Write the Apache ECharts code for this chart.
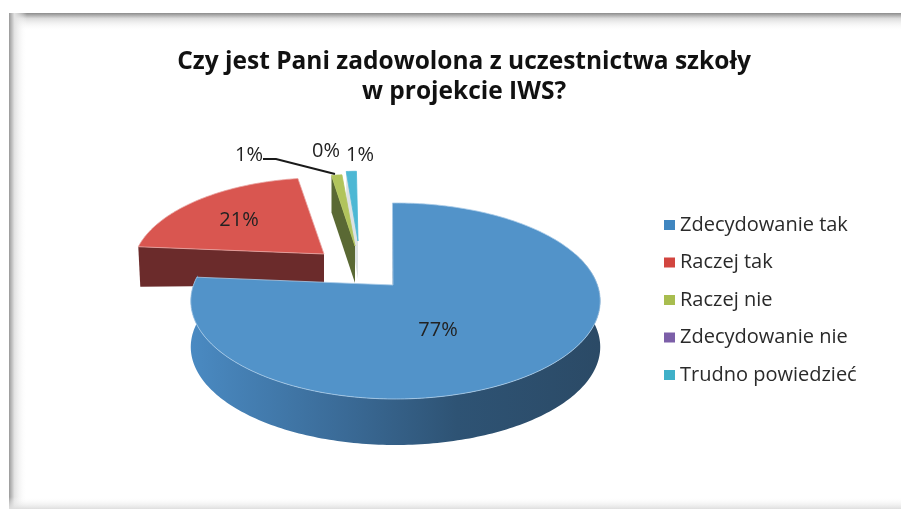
<!DOCTYPE html>
<html>
<head>
<meta charset="utf-8">
<script src="https://cdn.jsdelivr.net/npm/echarts@6/dist/echarts.min.js"></script>
<style>
  html, body { margin: 0; padding: 0; background: #fff; }
  #chart { width: 901px; height: 509px; }
</style>
</head>
<body>
<div id="chart"></div>
<script>
const titleText = 'Czy jest Pani zadowolona z uczestnictwa szkoły\nw projekcie IWS?';
const categories = ['Zdecydowanie tak', 'Raczej tak', 'Raczej nie', 'Zdecydowanie nie', 'Trudno powiedzieć'];
const percentages = [76.6, 21.2, 1.1, 0, 1.1];
const legendColors = ['#3f86c0', '#d2453f', '#a8bd4f', '#7c5fa8', '#3fb0c8'];

const FONT = 'Open Sans';
const START_ANGLE = -1;
const PERSPECTIVE = 0.163;
const RX = 202;
const RY = 95.4;

// how each slice is placed and painted, same order as categories
const sliceLook = [
  { arcX: 395.5, apexX: 393, apexY: 285, scale: 1, depth: 46, top: '#5293c9', wall: '#2f5a80', rim: '#a9cbe8', labelX: 438, labelY: 330, z: 5 },
  { arcX: 323, apexX: 324, apexY: 254, scale: 0.93, depth: 31, top: '#d95650', wall: '#6b2b2b', rim: '#e9a5a2', labelX: 239, labelY: 220, z: 4 },
  { arcX: 355, apexX: 355, apexY: 246, scale: 0.87, depth: 37, top: '#b1c45c', wall: '#5a6934', rim: '#b1c45c', labelX: 326, labelY: 151, z: 3, outLabel: [249, 155] },
  { arcX: 350, apexX: 350, apexY: 245, scale: 0.87, depth: 0, top: '#7c5fa8', wall: '#7c5fa8', rim: '#7c5fa8', labelX: 326, labelY: 151, z: 2 },
  { arcX: 359, apexX: 358, apexY: 241, scale: 0.85, depth: 38, top: '#4db8d4', wall: '#dde2e4', rim: '#4db8d4', labelX: 360, labelY: 155, z: 1 }
];

function project(look, deg, down) {
  const t = deg * Math.PI / 180;
  const w = 1 + PERSPECTIVE * Math.cos(t);
  return [
    look.arcX + look.scale * RX * Math.sin(t) / w,
    look.apexY - look.scale * RY * Math.cos(t) / w + (down || 0)
  ];
}

function arcPoints(look, from, to, down) {
  const pts = [];
  const n = Math.max(2, Math.ceil(Math.abs(to - from)));
  for (let i = 0; i <= n; i++) pts.push(project(look, from + (to - from) * i / n, down));
  return pts;
}

function sliceRange(idx) {
  let sum = 0;
  for (let i = 0; i < idx; i++) sum += percentages[i];
  return [START_ANGLE + sum * 3.6, START_ANGLE + (sum + percentages[idx]) * 3.6];
}

function pctLabel(text, x, y, z) {
  return {
    type: 'text', z2: z,
    style: { text: text, x: x, y: y, align: 'center', verticalAlign: 'middle', font: '20px "' + FONT + '"', fill: '#222' }
  };
}

function renderSlice(idx, api) {
  const look = sliceLook[idx];
  const value = api.value(0);
  const shown = Math.round(value) + '%';
  const children = [];
  const [from, to] = sliceRange(idx);
  if (value > 0) {
    const apex = [look.apexX, look.apexY];
    const arc = arcPoints(look, from, to);
    // radial wall on the start edge
    const edge = project(look, from);
    children.push({
      type: 'polygon', z2: 1,
      shape: { points: [apex, edge, [edge[0] + (idx === 1 ? 2 : 0), edge[1] + look.depth + (idx === 1 ? 9 : 0)], [apex[0], apex[1] + look.depth]] },
      style: { fill: look.wall }
    });
    if (idx === 0) {
      // outer rim, only the big slice shows it
      const upper = arcPoints(look, 70, 276);
      const lower = arcPoints(look, 70, 276, look.depth).reverse();
      children.push({
        type: 'polygon', z2: 2,
        shape: { points: upper.concat(lower) },
        style: {
          fill: new echarts.graphic.LinearGradient(0, 0, 1, 0, [
            { offset: 0, color: '#4a8ac2' },
            { offset: 0.38, color: '#3a6a96' },
            { offset: 0.65, color: '#2e5374' },
            { offset: 1, color: '#2b4a66' }
          ])
        }
      });
    }
    children.push({
      type: 'polygon', z2: 3,
      shape: { points: [apex].concat(arc) },
      style: { fill: look.top, stroke: look.rim, lineWidth: 0.8 }
    });
  }
  if (idx === 2) {
    // this one sits away from its slice, hence the leader line
    children.push(pctLabel(shown, look.outLabel[0], look.outLabel[1], 10));
    children.push({
      type: 'polyline', z2: 9,
      shape: { points: [[263, 159], [276, 159], [335, 174]] },
      style: { stroke: '#1a1a1a', lineWidth: 2, fill: null }
    });
  } else {
    children.push(pctLabel(shown, look.labelX, look.labelY, 10));
  }
  return { type: 'group', children: children };
}

const chart = echarts.init(document.getElementById('chart'));

const edgeShade = [
  { type: 'rect', silent: true, z: -1, shape: { x: 9, y: 13, width: 892, height: 18 },
    style: { fill: new echarts.graphic.LinearGradient(0, 0, 0, 1, [{ offset: 0, color: '#8c8c8c' }, { offset: 0.3, color: '#dcdcdc' }, { offset: 1, color: 'rgba(255,255,255,0)' }]) } },
  { type: 'rect', silent: true, z: -1, shape: { x: 9, y: 13, width: 18, height: 496 },
    style: { fill: new echarts.graphic.LinearGradient(0, 0, 1, 0, [{ offset: 0, color: '#999999' }, { offset: 0.3, color: '#e2e2e2' }, { offset: 1, color: 'rgba(255,255,255,0)' }]) } },
  { type: 'rect', silent: true, z: -1, shape: { x: 9, y: 497, width: 892, height: 12 },
    style: { fill: new echarts.graphic.LinearGradient(0, 0, 0, 1, [{ offset: 0, color: 'rgba(255,255,255,0)' }, { offset: 1, color: '#dedede' }]) } }
];

const option = {
  animation: false,
  backgroundColor: '#fff',
  title: {
    text: titleText,
    left: 459,
    top: 42,
    textAlign: 'center',
    textStyle: { fontFamily: FONT, fontWeight: 'bold', fontSize: 24.5, lineHeight: 30, color: '#111' }
  },
  legend: {
    data: categories,
    orient: 'vertical',
    left: 659,
    top: 207,
    icon: 'rect',
    itemWidth: 11,
    itemHeight: 10,
    itemGap: 11.5,
    selectedMode: false,
    textStyle: { fontFamily: FONT, fontSize: 20, color: '#2a2a2a', height: 26, lineHeight: 26, padding: [0, 0, 0, 0] }
  },
  graphic: edgeShade,
  series: categories.map((name, idx) => ({
    type: 'custom',
    name: name,
    coordinateSystem: 'none',
    z: sliceLook[idx].z,
    silent: true,
    itemStyle: { color: legendColors[idx] },
    data: [[percentages[idx]]],
    renderItem: (params, api) => renderSlice(idx, api)
  }))
};

chart.setOption(option);
</script>
</body>
</html>
